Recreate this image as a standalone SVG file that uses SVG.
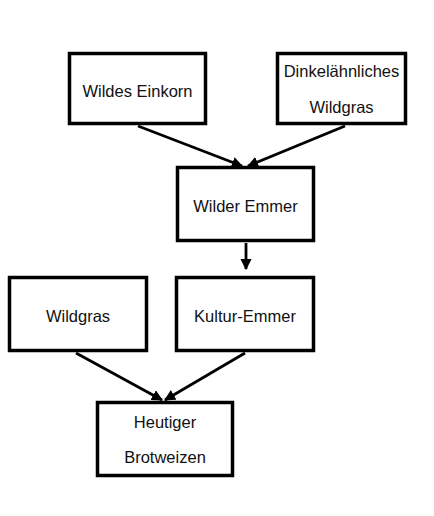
<svg xmlns="http://www.w3.org/2000/svg" width="434" height="516" viewBox="0 0 434 516">
<defs>
<style>
.box{fill:#fff;stroke:#000;stroke-width:3.5}
.t{font-family:"Liberation Sans",Arial,sans-serif;font-size:16.5px;fill:#111;text-anchor:middle}
.c{stroke:#000;stroke-width:2.8;fill:none;marker-end:url(#ah)}
</style>
<marker id="ah" viewBox="0 0 10 10" refX="9" refY="5" markerWidth="4" markerHeight="4" orient="auto" markerUnits="strokeWidth">
<path d="M0,0 L10,5 L0,10 z" fill="#000"/>
</marker>
</defs>
<rect width="434" height="516" fill="#fff"/>
<g id="connectors">
<line class="c" x1="138" y1="126" x2="242" y2="166"/>
<line class="c" x1="345" y1="126" x2="248" y2="166"/>
<line class="c" x1="246" y1="243" x2="246" y2="269"/>
<line class="c" x1="76" y1="353" x2="162" y2="400"/>
<line class="c" x1="245" y1="353" x2="165" y2="400"/>
</g>
<g id="n1"><rect class="box" x="69.5" y="53.5" width="136" height="70"/><text class="t" x="137.5" y="97">Wildes Einkorn</text></g>
<g id="n2"><rect class="box" x="277.5" y="53.5" width="128" height="70"/><text class="t" x="341.5" y="77">Dinkelähnliches</text><text class="t" x="341.5" y="113">Wildgras</text></g>
<g id="n3"><rect class="box" x="177.5" y="167.5" width="136" height="73"/><text class="t" x="245.5" y="212">Wilder Emmer</text></g>
<g id="n4"><rect class="box" x="9.5" y="277.5" width="137" height="73"/><text class="t" x="78" y="322">Wildgras</text></g>
<g id="n5"><rect class="box" x="176.5" y="277.5" width="137" height="73"/><text class="t" x="245" y="322">Kultur-Emmer</text></g>
<g id="n6"><rect class="box" x="97.5" y="402.5" width="135" height="73"/><text class="t" x="165" y="428">Heutiger</text><text class="t" x="165" y="463">Brotweizen</text></g>
</svg>
